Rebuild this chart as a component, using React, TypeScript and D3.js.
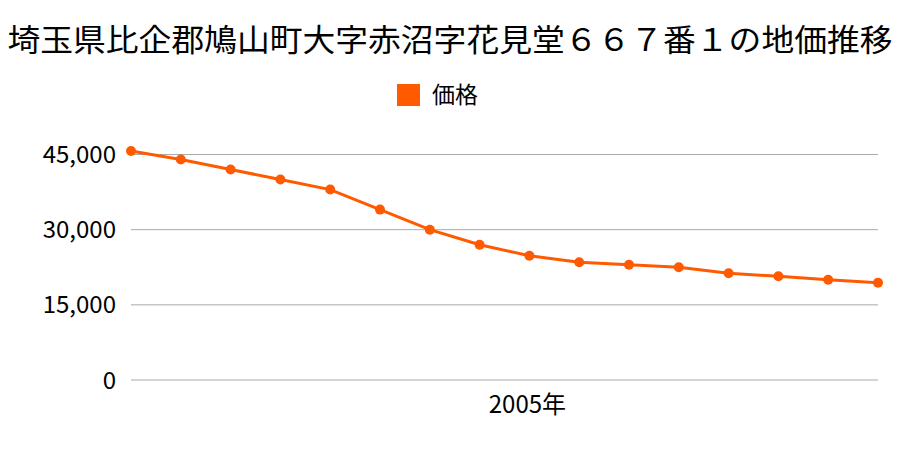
import React from "react";
import * as d3 from "d3";

const title = "埼玉県比企郡鳩山町大字赤沼字花見堂６６７番１の地価推移";
const seriesName = "価格";
const years = [1997, 1998, 1999, 2000, 2001, 2002, 2003, 2004, 2005, 2006, 2007, 2008, 2009, 2010, 2011, 2012];
const values = [45700, 44000, 42000, 40000, 38000, 34000, 30000, 27000, 24800, 23500, 23000, 22500, 21300, 20700, 20000, 19400];
const yTicks = [0, 15000, 30000, 45000];
const xLabelYears = [2005];

const W = 900;
const H = 450;
const FONT = "'Noto Sans CJK JP', 'Noto Sans', sans-serif";
const COLOR = "#ff5a00";

export default function App() {
  const x = d3.scalePoint<number>().domain(years).range([131, 878]);
  const y = d3.scaleLinear().domain([0, 45000]).range([380, 154.5]);
  const line = d3
    .line<number>()
    .x((_, i) => x(years[i]) as number)
    .y((d) => y(d));
  const fmt = d3.format(",");
  return (
    <svg width={W} height={H} style={{ position: "absolute", left: 0, top: 0 }} fontFamily={FONT}>
      <rect width={W} height={H} fill="#fff" />
      <text x={450} y={51} textAnchor="middle" fontSize={31} fill="#000" textLength={885} lengthAdjust="spacingAndGlyphs">
        {title}
      </text>
      <rect x={397} y={84} width={23} height={22} fill={COLOR} />
      <text x={432} y={103} fontSize={23} fill="#000">{seriesName}</text>
      {yTicks.map((t) => (
        <g key={t}>
          <line x1={131} x2={878} y1={y(t)} y2={y(t)} stroke="#aaa" strokeWidth={1} />
          <text x={116} y={y(t) + 8.5} textAnchor="end" fontSize={24} fill="#000">
            {fmt(t)}
          </text>
        </g>
      ))}
      {xLabelYears.map((yr) => (
        <text key={yr} x={(x(yr) as number) - 2} y={413} textAnchor="middle" fontSize={24} fill="#000">
          {yr}年
        </text>
      ))}
      <path d={line(values) || ""} fill="none" stroke={COLOR} strokeWidth={3} />
      {values.map((v, i) => (
        <circle key={i} cx={x(years[i])} cy={y(v)} r={5} fill={COLOR} />
      ))}
    </svg>
  );
}
